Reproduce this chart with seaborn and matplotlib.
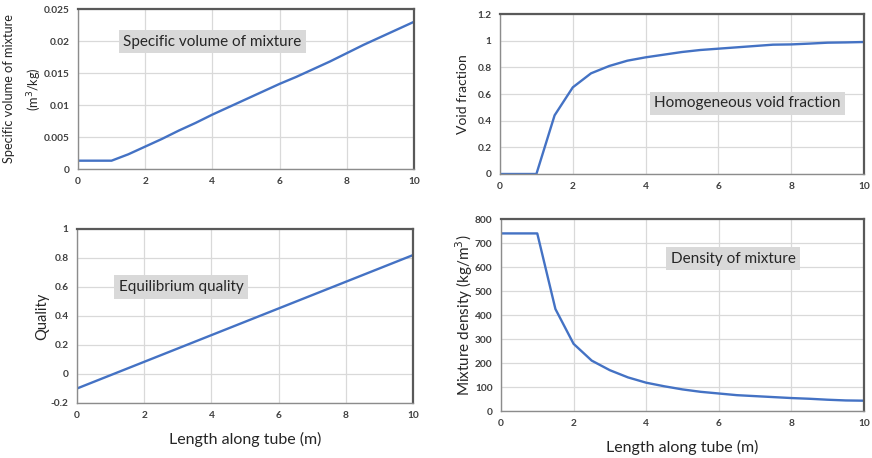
import matplotlib
matplotlib.use("Agg")
import matplotlib.pyplot as plt
import seaborn as sns
import pandas as pd

sns.set_theme(style="white")
plt.rcParams["font.family"] = ["Lato", "DejaVu Sans"]

# Position along the tube (m)
length = [0, 0.5, 1.0, 1.5, 2.0, 2.5, 3.0, 3.5, 4.0, 4.5, 5.0,
          5.5, 6.0, 6.5, 7.0, 7.5, 8.0, 8.5, 9.0, 9.5, 10.0]

# Specific volume of mixture (m^3/kg)
specific_volume = [0.0013, 0.0013, 0.0013, 0.0023, 0.0035, 0.0047, 0.0060,
                   0.0072, 0.0085, 0.0097, 0.0109, 0.0121, 0.0133, 0.0144,
                   0.0156, 0.0168, 0.0181, 0.0194, 0.0206, 0.0218, 0.0230]

# Homogeneous void fraction
void_fraction = [0, 0, 0, 0.44, 0.65, 0.755, 0.81, 0.85, 0.875, 0.895, 0.915,
                 0.93, 0.94, 0.95, 0.96, 0.97, 0.972, 0.978, 0.985, 0.987, 0.99]

# Equilibrium quality
quality = [-0.10, -0.054, -0.008, 0.038, 0.084, 0.130, 0.176, 0.222, 0.268,
           0.314, 0.360, 0.406, 0.452, 0.498, 0.544, 0.590, 0.636, 0.682,
           0.728, 0.774, 0.820]

# Mixture density (kg/m^3)
density = [740, 740, 740, 425, 280, 210, 170, 140, 118, 103, 90,
           80, 73, 66, 62, 58, 54, 51, 47, 44, 43]

df = pd.DataFrame({"length": length, "v": specific_volume, "alpha": void_fraction,
                   "x": quality, "rho": density})

line_color = "#4472C4"
grid_color = "#d9d9d9"
frame_color = "#595959"
tick_color = "#404040"
text_color = "#262626"

fig = plt.figure(figsize=(8.72, 4.58), dpi=100)
ax_v = fig.add_axes([0.0894, 0.631, 0.3853, 0.3493])
ax_a = fig.add_axes([0.5734, 0.6201, 0.4174, 0.3493])
ax_x = fig.add_axes([0.0883, 0.1201, 0.3853, 0.3799])
ax_r = fig.add_axes([0.5745, 0.1026, 0.4163, 0.4192])


def style(ax, ylim, yticks, yfmt):
    ax.set_xlim(0, 10)
    ax.set_xticks([0, 2, 4, 6, 8, 10])
    ax.set_ylim(*ylim)
    ax.set_yticks(yticks)
    ax.set_yticklabels([yfmt(t) for t in yticks])
    ax.grid(True, color=grid_color, linewidth=0.9)
    ax.set_axisbelow(True)
    for side in ("top", "right"):
        ax.spines[side].set_color(frame_color)
        ax.spines[side].set_linewidth(1.6)
    for side in ("left", "bottom"):
        ax.spines[side].set_color("#8c8c8c")
        ax.spines[side].set_linewidth(1.0)
    ax.tick_params(axis="both", length=0, pad=6, labelsize=7.3, labelcolor=tick_color)
    for lab in ax.get_xticklabels() + ax.get_yticklabels():
        lab.set_fontweight("bold")


def fmt_num(t):
    s = f"{t:.3f}".rstrip("0").rstrip(".")
    return "0" if s in ("-0", "0") else s


box = dict(boxstyle="square,pad=0.3", facecolor="#d9d9d9", edgecolor="none")
note_kw = dict(fontsize=11, color=text_color, ha="center", va="center", bbox=box)
xlabel_kw = dict(fontsize=11.5, color=text_color, labelpad=8)

sns.lineplot(data=df, x="length", y="v", ax=ax_v, color=line_color, linewidth=1.7)
style(ax_v, (0, 0.025), [0, 0.005, 0.01, 0.015, 0.02, 0.025], fmt_num)
ax_v.set_xlabel("")
ax_v.set_ylabel("Specific volume of mixture\n(m$^3$/kg)", labelpad=0,
                fontsize=9.2, color=text_color, linespacing=1.75)
ax_v.text(4.0, 0.0199, "Specific volume of mixture", **note_kw)

sns.lineplot(data=df, x="length", y="alpha", ax=ax_a, color=line_color, linewidth=1.7)
style(ax_a, (0, 1.2), [0, 0.2, 0.4, 0.6, 0.8, 1.0, 1.2], fmt_num)
ax_a.set_xlabel("")
ax_a.set_ylabel("Void fraction", labelpad=6, fontsize=10, color=text_color)
ax_a.text(6.8, 0.53, "Homogeneous void fraction", **note_kw)

sns.lineplot(data=df, x="length", y="x", ax=ax_x, color=line_color, linewidth=1.7)
style(ax_x, (-0.2, 1.0), [-0.2, 0, 0.2, 0.4, 0.6, 0.8, 1.0], fmt_num)
ax_x.set_xlabel("Length along tube (m)", **xlabel_kw)
ax_x.set_ylabel("Quality", labelpad=1, fontsize=10.5, color=text_color)
ax_x.text(3.1, 0.6, "Equilibrium quality", **note_kw)

sns.lineplot(data=df, x="length", y="rho", ax=ax_r, color=line_color, linewidth=1.7)
style(ax_r, (0, 800), [0, 100, 200, 300, 400, 500, 600, 700, 800], fmt_num)
ax_r.set_xlabel("Length along tube (m)", **xlabel_kw)
ax_r.set_ylabel("Mixture density (kg/m$^3$)", labelpad=0, fontsize=11, color=text_color)
ax_r.text(6.4, 635, "Density of mixture", **note_kw)

fig.savefig("out.png", dpi=100)
